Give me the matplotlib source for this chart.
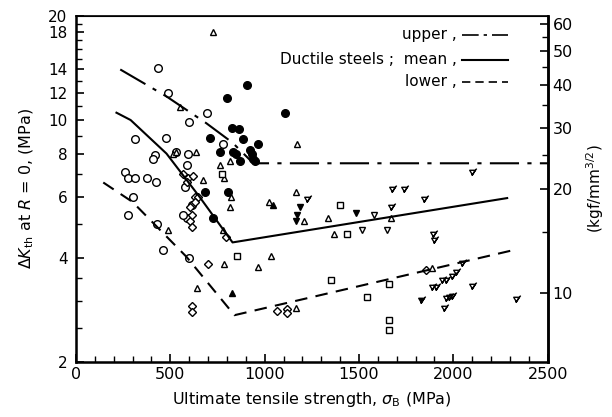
import numpy as np
import matplotlib
matplotlib.use("Agg")
import matplotlib.pyplot as plt
from matplotlib.path import Path
from matplotlib.ticker import FixedLocator, NullFormatter, FixedFormatter

plt.rcParams['font.family'] = ['DejaVu Sans']

KGF = 0.3162  # MPa m^1/2 per kgf/mm^3/2 as drawn

# scatter data, sigma_B (MPa) vs dK_th (MPa m^1/2)
circ_x = [434, 487, 598, 693, 476, 312, 418, 407, 592, 259, 275, 312, 376, 423,
          302, 275, 428, 460, 598, 778, 529, 587, 577, 614, 587, 566]
circ_y = [14.1, 12.0, 9.9, 10.5, 8.9, 8.8, 7.9, 7.7, 8.0, 7.1, 6.8, 6.8, 6.8, 6.6,
          6.0, 5.3, 5.0, 4.2, 4.0, 8.5, 8.1, 7.4, 6.4, 5.7, 5.2, 5.3]

fcirc_x = [799, 905, 709, 825, 862, 883, 963, 762, 831, 846, 920, 931, 868, 936,
           947, 682, 804, 725, 1106]
fcirc_y = [11.6, 12.6, 8.9, 9.5, 9.4, 8.8, 8.5, 8.1, 8.1, 8.0, 8.2, 8.0, 7.6, 7.7,
           7.6, 6.2, 6.2, 5.2, 10.5]

diam_x = [566, 592, 619, 587, 630, 645, 603, 603, 614, 630, 614, 794, 698, 614,
          614, 1063, 1116, 1121, 1857]
diam_y = [7.0, 6.8, 6.9, 6.6, 6.0, 6.0, 5.6, 5.1, 4.9, 5.8, 5.3, 4.6, 3.84, 2.90,
          2.79, 2.81, 2.84, 2.77, 3.69]

tri_x = [725, 550, 513, 635, 529, 762, 815, 783, 672, 820, 815, 1169, 1164, 1021,
         487, 778, 783, 963, 1032, 640, 1164, 1211, 1338, 1370, 1672, 1889]
tri_y = [18.0, 10.9, 8.0, 8.1, 8.1, 7.4, 7.6, 6.8, 6.7, 6.0, 5.6, 8.5, 6.2, 5.8,
         4.8, 4.8, 3.84, 3.77, 4.05, 3.27, 2.87, 5.1, 5.2, 4.7, 5.2, 3.74]

ftri_x = [1042, 825]
ftri_y = [5.7, 3.16]

sq_x = [852, 772, 1400, 1434, 1354, 1661, 1545, 1661, 1661]
sq_y = [4.05, 7.0, 5.7, 4.7, 3.45, 3.36, 3.08, 2.64, 2.48]

itri_x = [1582, 1518, 1650]
itri_y = [5.3, 4.8, 4.8]

fitri_x = [1486, 1185, 1174, 1164]
fitri_y = [5.4, 5.6, 5.3, 5.1]

flag_x = [1222, 1677, 1740, 1672, 1846, 2100, 1894, 1899, 1941, 1963, 1994, 2015,
          2047, 1889, 1910, 1963, 1978, 1994, 1952, 2100, 2333]
flag_y = [5.9, 6.3, 6.3, 5.6, 5.9, 7.1, 4.7, 4.5, 3.45, 3.45, 3.55, 3.64,
          3.87, 3.30, 3.30, 3.06, 3.08, 3.10, 2.87, 3.32, 3.04]
fflag_x = [1830]
fflag_y = [3.02]

# design curves
upper_x = [235, 480, 690, 830, 940, 2500]
upper_y = [14.0, 11.7, 9.8, 8.6, 7.5, 7.5]
mean_x = [215, 290, 480, 655, 830, 2285]
mean_y = [10.5, 10.0, 8.0, 6.0, 4.43, 5.95]
lower_x = [145, 300, 585, 840, 2335]
lower_y = [6.6, 5.8, 4.03, 2.73, 4.23]

left_ticks = [2, 4, 6, 8, 10, 12, 14, 18, 20]
right_ticks = [10, 20, 30, 40, 50, 60]

# flag symbol: inverted triangle with a slash
flag = Path([(-1, 0.8), (1, 0.8), (0, -0.9), (-1, 0.8), (-0.3, -1.1), (1.5, 1.4)],
            [Path.MOVETO, Path.LINETO, Path.LINETO, Path.CLOSEPOLY, Path.MOVETO, Path.LINETO])

fig = plt.figure(figsize=(6.12, 4.17), dpi=100)
ax = fig.add_axes([0.124, 0.132, 0.771, 0.830])

kw = dict(color='black', linestyle='none', markeredgewidth=1.0)
ax.plot(circ_x, circ_y, marker='o', markersize=5.5, markerfacecolor='white', **kw)
ax.plot(fcirc_x, fcirc_y, marker='o', markersize=5.5, markerfacecolor='black', **kw)
ax.plot(diam_x, diam_y, marker='D', markersize=4.2, markerfacecolor='white', **kw)
ax.plot(tri_x, tri_y, marker='^', markersize=4.5, markerfacecolor='white', **kw)
ax.plot(ftri_x, ftri_y, marker='^', markersize=4.5, markerfacecolor='black', **kw)
ax.plot(sq_x, sq_y, marker='s', markersize=4.5, markerfacecolor='white', **kw)
ax.plot(itri_x, itri_y, marker='v', markersize=4.5, markerfacecolor='white', **kw)
ax.plot(fitri_x, fitri_y, marker='v', markersize=4.5, markerfacecolor='black', **kw)
ax.plot(flag_x, flag_y, marker=flag, markersize=6, markerfacecolor='none', **kw)
ax.plot(fflag_x, fflag_y, marker=flag, markersize=6, markerfacecolor='black', **kw)

ax.plot(upper_x, upper_y, color='black', lw=1.5, dashes=(14, 4, 2, 4))
ax.plot(mean_x, mean_y, color='black', lw=1.5)
ax.plot(lower_x, lower_y, color='black', lw=1.5, dashes=(6, 4))

ax.set_yscale('log')
ax.set_xlim(0, 2500)
ax.set_ylim(2, 20)
ax.xaxis.set_major_locator(FixedLocator([0, 500, 1000, 1500, 2000, 2500]))
ax.xaxis.set_minor_locator(FixedLocator(np.arange(0, 2501, 100)))
ax.yaxis.set_major_locator(FixedLocator(left_ticks))
ax.yaxis.set_major_formatter(FixedFormatter([str(t) for t in left_ticks]))
ax.yaxis.set_minor_locator(FixedLocator([2.5, 3, 3.5, 5, 7, 9, 11, 13, 15, 16, 17, 19]))
ax.yaxis.set_minor_formatter(NullFormatter())
ax.tick_params(which='both', direction='in', top=False, right=False, labelsize=11.5)
ax.tick_params(axis='y', labelsize=11)
ax.tick_params(which='major', length=6, width=1.2)
ax.tick_params(which='minor', length=4, width=1)
ax.tick_params(axis='y', pad=6)
for s in ['left', 'bottom', 'right']:
    ax.spines[s].set_linewidth(1.8)
ax.spines['top'].set_linewidth(1.2)

ax.set_xlabel(r'Ultimate tensile strength, $\sigma_\mathrm{B}$ (MPa)', fontsize=11.5, labelpad=6)
ax.set_ylabel(r'$\Delta K_\mathrm{th}$ at $R$ = 0, (MPa)', fontsize=11.5, labelpad=9)

ax2 = ax.twinx()
ax2.set_yscale('log')
ax2.set_ylim(2 / KGF, 20 / KGF)
ax2.yaxis.set_major_locator(FixedLocator(right_ticks))
ax2.yaxis.set_major_formatter(FixedFormatter([str(t) for t in right_ticks]))
ax2.yaxis.set_minor_locator(FixedLocator([15, 25, 35, 45, 55]))
ax2.yaxis.set_minor_formatter(NullFormatter())
ax2.tick_params(which='both', direction='in', labelsize=11.5)
ax2.tick_params(which='major', length=6, width=1.2)
ax2.tick_params(which='minor', length=4, width=1)
ax2.spines['right'].set_linewidth(1.8)
ax2.set_ylabel(r'(kgf/mm$^{3/2}$)', fontsize=11, labelpad=8)

# legend written as text with line samples
ax.text(0.807, 0.945, 'upper ,', transform=ax.transAxes, ha='right', va='center', fontsize=11)
ax.text(0.807, 0.873, 'Ductile steels ;  mean ,', transform=ax.transAxes, ha='right', va='center', fontsize=11)
ax.text(0.807, 0.809, 'lower ,', transform=ax.transAxes, ha='right', va='center', fontsize=11)
ax.plot([0.818, 0.915], [0.945, 0.945], transform=ax.transAxes, color='black', lw=1.2, dashes=(10, 3, 2, 3))
ax.plot([0.818, 0.915], [0.873, 0.873], transform=ax.transAxes, color='black', lw=1.5)
ax.plot([0.818, 0.915], [0.809, 0.809], transform=ax.transAxes, color='black', lw=1.2, dashes=(5, 3))

fig.savefig('out.png', dpi=100)
